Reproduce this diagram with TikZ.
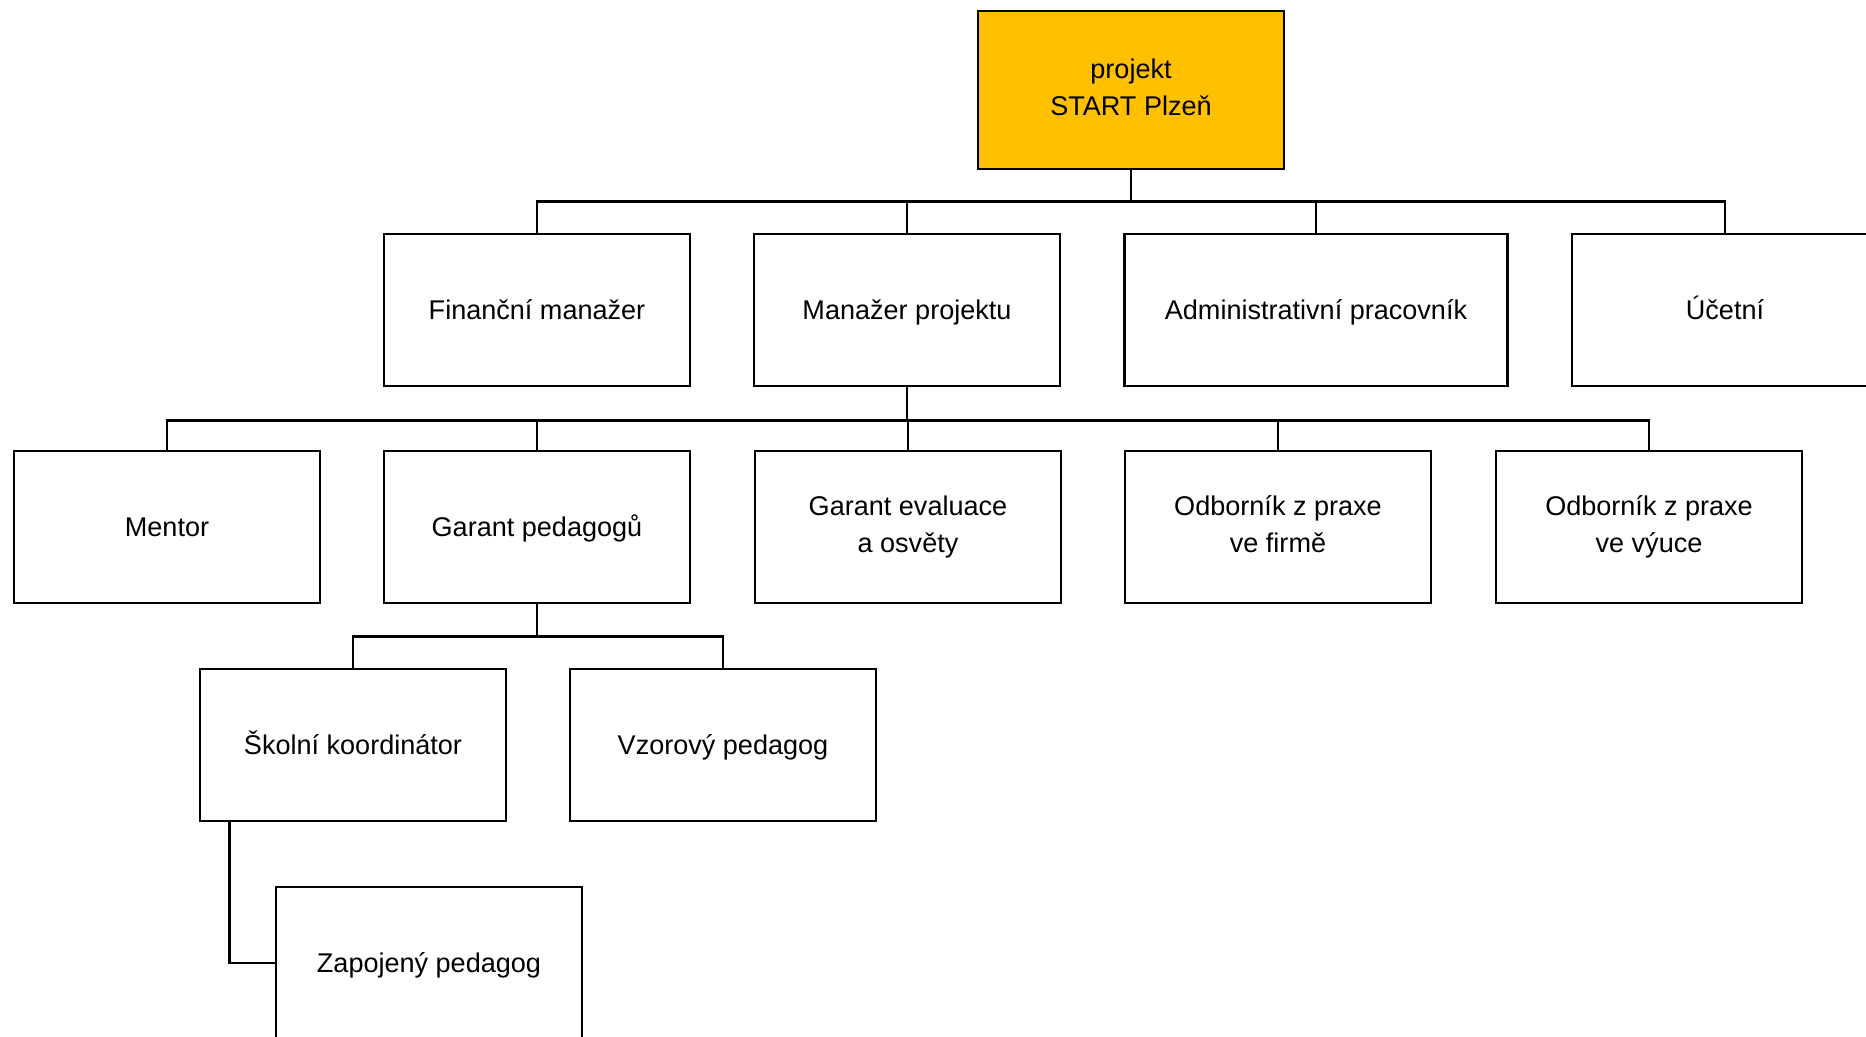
\documentclass[tikz,border=0pt]{standalone}
\usepackage{fontspec}
\setmainfont{Liberation Sans}
\usepackage{tikz}
\usetikzlibrary{positioning}
\usepackage{xcolor}
\definecolor{startgold}{HTML}{FFC000}
\newcommand{\boxstrut}{\rule[-3.5pt]{0pt}{18pt}}

\begin{document}
\begin{tikzpicture}[x=0.02cm,y=-0.02cm,%
		   box/.style={draw,line width=1.6pt,fill=white,minimum width=6.12cm,minimum height=3.04cm,
		               align=center,inner sep=0pt,font=\fontsize{15.4}{21}\selectfont,
		               execute at begin node=\boxstrut,execute at end node=\boxstrut},
		   rootbox/.style={box,fill=startgold,minimum height=3.16cm},
		   link/.style={line width=1.6pt}]

	\useasboundingbox (0,0) rectangle (1866,1037);

	\node[rootbox] (root) at (1131,90) {projekt\\START Plzeň};

	% second row
	\foreach \name/\x/\w/\desc in {%
	   fin/537/6.12/Finanční manažer,%
	   man/907/6.12/Manažer projektu,%
	   adm/1316/7.66/Administrativní pracovník,%
	   uce/1725/6.12/Účetní%
	   } { \node[box,minimum width=\w cm] (\name) at (\x,310) {\desc};
	   \draw[link] (root.south) -- ++(0,31) -| (\name.north);
	   }

	% third row
	\foreach \name/\x/\desc in {%
	   men/167/Mentor,%
	   gped/537/Garant pedagogů,%
	   geva/908/Garant evaluace\\a osvěty,%
	   ofir/1278/Odborník z praxe\\ve firmě,%
	   ovyu/1649/Odborník z praxe\\ve výuce%
	   } { \node[box] (\name) at (\x,527) {\desc};
	   \draw[link] (man.south) -- ++(0,33) -| (\name.north);
	   }

	% fourth row
	\foreach \name/\x/\desc in {%
	   skol/353/Školní koordinátor,%
	   vzor/723/Vzorový pedagog%
	   } { \node[box] (\name) at (\x,745) {\desc};
	   \draw[link] (gped.south) -- ++(0,32) -| (\name.north);
	   }

	\node[box] (zap) at (429,963) {Zapojený pedagog};
	\coordinate (zapfork) at ([xshift=0.62cm]skol.south west);
	\draw[link] (zapfork) |- (zap.west);
\end{tikzpicture}
\end{document}
